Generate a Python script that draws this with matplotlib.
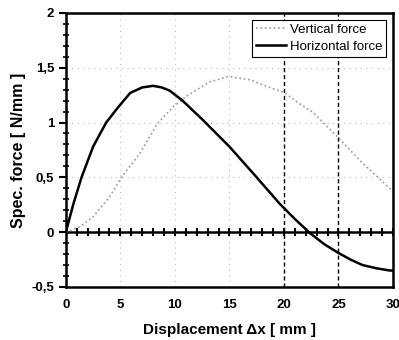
import numpy as np
import matplotlib.pyplot as plt
from matplotlib.ticker import MultipleLocator, FuncFormatter

plt.rcParams['font.family'] = ['Liberation Sans', 'DejaVu Sans']

# Horizontal force (black solid)
x_hor = [0, 0.7, 1.44, 2.5, 3.7, 4.8, 5.9, 7.0, 8.0, 8.8, 9.54, 10.7, 12.6, 15.0,
         17.5, 19.6, 21.0, 22.4, 23.7, 25.0, 26.1, 27.2, 28.5, 29.7, 30.0]
y_hor = [0, 0.26, 0.50, 0.78, 1.00, 1.14, 1.27, 1.32, 1.335, 1.32, 1.29, 1.20, 1.02, 0.78,
         0.50, 0.26, 0.12, -0.01, -0.11, -0.19, -0.25, -0.30, -0.33, -0.35, -0.35]

# Vertical force (grey dotted)
x_ver = [0, 1.3, 2.5, 4.0, 5.1, 6.8, 8.4, 9.8, 11.2, 13.2, 14.9, 16.9, 18.7, 20.1,
         21.3, 22.7, 25.0, 27.2, 29.7, 30.0]
y_ver = [0, 0.05, 0.14, 0.32, 0.50, 0.72, 0.99, 1.14, 1.25, 1.37, 1.42, 1.39, 1.32, 1.27,
         1.18, 1.09, 0.86, 0.63, 0.40, 0.38]

marks = [20, 25]
zero_ticks = np.arange(0, 31)

fig = plt.figure(figsize=(3.99, 3.4), dpi=100)
ax = fig.add_axes([0.165, 0.156, 0.82, 0.806])

for gx in [5, 10, 15]:
    ax.axvline(gx, color='#bbbbbb', linestyle=(0, (1, 4)), linewidth=0.8, zorder=1)
for gy in [0.5, 1.0, 1.5]:
    ax.axhline(gy, color='#bbbbbb', linestyle=(0, (1, 4)), linewidth=0.8, zorder=1)
for m in marks:
    ax.axvline(m, color='black', linestyle=(0, (3, 2)), linewidth=1.0, zorder=2)

ax.axhline(0, color='black', linewidth=1.8, zorder=3)
ax.plot(zero_ticks, np.zeros_like(zero_ticks), linestyle='none', marker='|',
        markersize=6, markeredgewidth=1.5, color='black', zorder=3)

ax.plot(x_ver, y_ver, color='#999999', linestyle=':', linewidth=1.2,
        label='Vertical force', zorder=4)
ax.plot(x_hor, y_hor, color='black', linestyle='-', linewidth=1.8,
        label='Horizontal force', zorder=5)

ax.set_xlim(0, 30)
ax.set_ylim(-0.5, 2)
ax.xaxis.set_major_locator(MultipleLocator(5))
ax.yaxis.set_major_locator(MultipleLocator(0.5))
ax.yaxis.set_minor_locator(MultipleLocator(0.1))

fmt = FuncFormatter(lambda v, p: ('%g' % v).replace('.', ','))
ax.xaxis.set_major_formatter(fmt)
ax.yaxis.set_major_formatter(fmt)

ax.tick_params(axis='x', length=0, pad=9, labelsize=9.5)
ax.tick_params(axis='y', which='major', direction='out', length=5, width=1.5, labelsize=9.5)
ax.tick_params(axis='y', which='minor', direction='inout', length=5, width=1.2)
for lbl in ax.get_xticklabels() + ax.get_yticklabels():
    lbl.set_fontweight('bold')

for s in ax.spines.values():
    s.set_linewidth(1.8)

ax.set_xlabel('Displacement \u0394x [ mm ]', fontsize=11, fontweight='bold', labelpad=8)
ax.set_ylabel('Spec. force [ N/mm ]', fontsize=11.5, fontweight='bold', labelpad=4)

leg = ax.legend(loc='upper right', fontsize=9.5, frameon=True, fancybox=False,
                edgecolor='black', framealpha=1, borderpad=0.3, handlelength=2.3,
                handletextpad=0.3, borderaxespad=0.5, labelspacing=0.35)
leg.get_frame().set_linewidth(0.8)

fig.savefig('out.png', dpi=100)
